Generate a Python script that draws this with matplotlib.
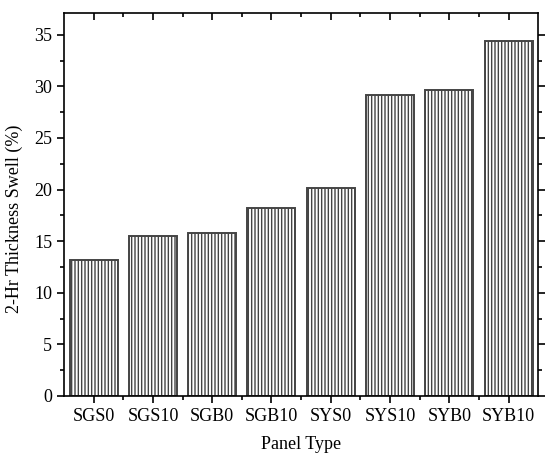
import matplotlib.pyplot as plt
import numpy as np
from matplotlib.ticker import MultipleLocator, FixedLocator

# Data
panels = ['SGS0', 'SGS10', 'SGB0', 'SGB10', 'SYS0', 'SYS10', 'SYB0', 'SYB10']
swell = [13.2, 15.5, 15.8, 18.2, 20.2, 29.2, 29.7, 34.4]

plt.rcParams['font.family'] = ['Liberation Serif', 'DejaVu Serif']
plt.rcParams['hatch.color'] = '#777777'
plt.rcParams['hatch.linewidth'] = 1.0

fig = plt.figure(figsize=(5.52, 4.54), dpi=100)
ax = fig.add_axes([0.116, 0.128, 0.859, 0.843])

x = np.arange(len(panels))
ax.bar(x, swell, width=0.81, color='white', edgecolor='#444444',
       linewidth=1.4, hatch='|||||')

ax.set_xlim(-0.5, len(panels) - 0.5)
ax.set_ylim(0, 37.1)
ax.set_xticks(x)
ax.set_xticklabels(panels)
ax.xaxis.set_minor_locator(FixedLocator(x[:-1] + 0.5))
ax.yaxis.set_major_locator(MultipleLocator(5))
ax.yaxis.set_minor_locator(MultipleLocator(2.5))

ax.tick_params(which='both', direction='out', top=True, right=True,
               labelsize=13, width=1.2)
ax.tick_params(which='major', length=5)
ax.tick_params(which='minor', length=3)
# top / right ticks point inward
for t in ax.xaxis.get_major_ticks() + ax.xaxis.get_minor_ticks():
    t.tick2line.set_marker(3)
for t in ax.yaxis.get_major_ticks() + ax.yaxis.get_minor_ticks():
    t.tick2line.set_marker(1)
for s in ax.spines.values():
    s.set_linewidth(1.2)

ax.set_xlabel('Panel Type', fontsize=13, labelpad=8)
ax.set_ylabel('2-Hr Thickness Swell (%)', fontsize=13, labelpad=8, y=0.462)

fig.savefig('out.png', dpi=100)
